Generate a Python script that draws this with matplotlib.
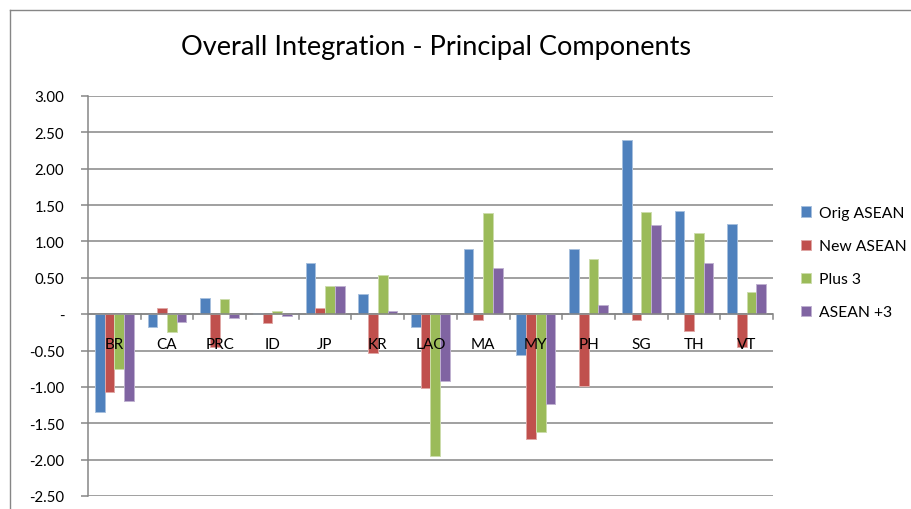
import matplotlib
matplotlib.use("Agg")
import matplotlib.pyplot as plt
from matplotlib.lines import Line2D
import numpy as np

plt.rcParams['font.family'] = ['Lato', 'DejaVu Sans']

categories = ["BR", "CA", "PRC", "ID", "JP", "KR", "LAO", "MA", "MY", "PH", "SG", "TH", "VT"]
series_names = ["Orig ASEAN", "New ASEAN", "Plus 3", "ASEAN +3"]
orig_asean = [-1.35, -0.18, 0.22, 0.02, 0.71, 0.28, -0.18, 0.90, -0.56, 0.89, 2.39, 1.42, 1.24]
new_asean = [-1.07, 0.08, -0.45, -0.12, 0.08, -0.53, -1.01, -0.08, -1.71, -0.99, -0.08, -0.23, -0.45]
plus_3 = [-0.75, -0.25, 0.21, 0.04, 0.39, 0.54, -1.95, 1.39, -1.62, 0.76, 1.41, 1.11, 0.30]
asean_plus_3 = [-1.19, -0.11, -0.05, -0.03, 0.39, 0.04, -0.92, 0.63, -1.24, 0.13, 1.23, 0.71, 0.41]
y_ticks = [3.0, 2.5, 2.0, 1.5, 1.0, 0.5, 0.0, -0.5, -1.0, -1.5, -2.0, -2.5]

colors = ["#4F81BD", "#C0504D", "#9BBB59", "#8064A2"]
edges = ["#A7C0DE", "#DFA8A6", "#CDDDAC", "#BFB1D0"]
grid_col = "#868686"

W, H = 912, 510
fig = plt.figure(figsize=(W / 100, H / 100), dpi=100)
ax = fig.add_axes([88 / W, 1 - 497 / H, 685 / W, 400 / H])

x = np.arange(len(categories))
bw = 0.184
all_series = [orig_asean, new_asean, plus_3, asean_plus_3]
for i, (vals, name) in enumerate(zip(all_series, series_names)):
    ax.bar(x + (i - 1.5) * bw, vals, width=bw, color=colors[i],
           edgecolor=edges[i], linewidth=0.7, label=name, zorder=3)

ax.set_xlim(-0.5, len(categories) - 0.5)
ax.set_ylim(-2.5, 3.0)
ax.set_yticks(y_ticks)
ax.set_yticklabels(["-" if v == 0 else f"{v:.2f}" for v in y_ticks], fontsize=10.8)
ax.tick_params(axis='y', direction='out', length=5, width=1.1, color=grid_col, pad=12)
ax.set_xticks([])
ax.yaxis.grid(True, color=grid_col, linewidth=1.1, zorder=0)
ax.set_axisbelow(True)
for s in ["top", "right", "bottom"]:
    ax.spines[s].set_visible(False)
ax.spines["left"].set_color(grid_col)
ax.spines["left"].set_linewidth(1.1)

# horizontal category axis at zero with boundary tick marks
ax.axhline(0, color=grid_col, linewidth=1.1, zorder=4)
px_per_unit = 400 / 5.5
for b in np.arange(0.5, len(categories) + 0.5, 1.0):
    ax.plot([b, b], [0, -5 / px_per_unit], color=grid_col, linewidth=1.1,
            zorder=4, clip_on=False)
for xi, c in zip(x, categories):
    ax.text(xi, -30 / px_per_unit, c, ha='center', va='center', fontsize=11,
            color='black', zorder=5)

fig.text(436 / W, 1 - 47 / H, "Overall Integration - Principal Components",
         ha='center', va='center', fontsize=19.5)

leg = ax.legend(loc='upper left', bbox_to_anchor=(801 / W, 1 - 207 / H),
                bbox_transform=fig.transFigure, frameon=False, fontsize=11.3,
                handlelength=0.62, handleheight=0.62, handletextpad=0.5,
                labelspacing=1.22, borderpad=0, borderaxespad=0)

# chart area border
fig.add_artist(Line2D([10 / W, 1.0], [1 - 10.5 / H] * 2, color=grid_col,
                      linewidth=1.0, transform=fig.transFigure))
fig.add_artist(Line2D([10 / W] * 2, [0, 1 - 10.5 / H], color=grid_col,
                      linewidth=1.0, transform=fig.transFigure))

fig.savefig("out.png", dpi=100, facecolor='white')
